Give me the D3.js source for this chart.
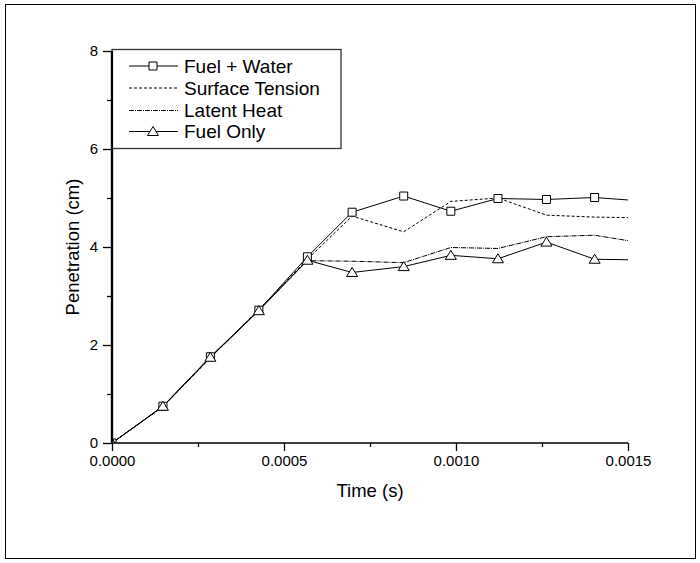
<!DOCTYPE html>
<html>
<head>
<meta charset="utf-8">
<script src="https://cdn.jsdelivr.net/npm/d3@7"></script>
<style>
  body { margin: 0; background: #fff; }
  text { font-family: "Liberation Sans", Arial, sans-serif; fill: #000; }
</style>
</head>
<body>
<div id="chart"></div>
<script>
// Data
const times = [0, 0.000148, 0.000286, 0.000427, 0.000568, 0.000698, 0.000848, 0.000985, 0.001122, 0.001263, 0.001403, 0.0015];
const fuelWater = [0, 0.75, 1.76, 2.71, 3.80, 4.71, 5.04, 4.73, 4.99, 4.97, 5.01, 4.96];
const surfaceTension = [0, 0.74, 1.74, 2.72, 3.75, 4.63, 4.31, 4.93, 5.00, 4.65, 4.61, 4.60];
const latentHeat = [0, 0.74, 1.74, 2.72, 3.72, 3.71, 3.68, 3.99, 3.97, 4.21, 4.24, 4.13];
const fuelOnly = [0, 0.75, 1.75, 2.70, 3.73, 3.48, 3.60, 3.83, 3.76, 4.10, 3.75, 3.74];

const seriesNames = ["Fuel + Water", "Surface Tension", "Latent Heat", "Fuel Only"];
const xMajor = [0, 0.0005, 0.001, 0.0015];
const xMinor = [0.00025, 0.00075, 0.00125];
const yMajor = [0, 2, 4, 6, 8];
const yMinor = [1, 3, 5, 7];

const width = 700;
const height = 563;
const plotLeft = 112, plotRight = 628, plotTop = 51, plotBottom = 443;

const series = [
  { name: seriesNames[0], values: fuelWater, dash: null, marker: "square" },
  { name: seriesNames[1], values: surfaceTension, dash: "3,2", marker: null },
  { name: seriesNames[2], values: latentHeat, dash: "5,1,1,1", marker: null },
  { name: seriesNames[3], values: fuelOnly, dash: null, marker: "triangle" }
];

const svg = d3.select("#chart").append("svg")
  .attr("width", width)
  .attr("height", height);

// outer frame
svg.append("rect")
  .attr("x", 5.5).attr("y", 4.5)
  .attr("width", 690).attr("height", 554)
  .attr("fill", "none").attr("stroke", "#000").attr("stroke-width", 1);

const x = d3.scaleLinear().domain([0, 0.0015]).range([plotLeft, plotRight]);
const y = d3.scaleLinear().domain([0, 8]).range([plotBottom, plotTop]);

svg.append("clipPath").attr("id", "plot")
  .append("rect")
  .attr("x", plotLeft).attr("y", plotTop)
  .attr("width", plotRight - plotLeft).attr("height", plotBottom - plotTop);

// markers
function markerPath(type) {
  if (type === "square") return "M-4,-4H4V4H-4Z";
  return "M0,-5L5.5,4H-5.5Z";
}

// series lines
const line = d3.line()
  .x((d, i) => x(times[i]))
  .y(d => y(d));

const plot = svg.append("g").attr("clip-path", "url(#plot)");

series.forEach(s => {
  plot.append("path")
    .datum(s.values)
    .attr("d", line)
    .attr("fill", "none")
    .attr("stroke", "#000")
    .attr("stroke-width", 1)
    .attr("stroke-dasharray", s.dash);
});

series.filter(s => s.marker).forEach(s => {
  plot.selectAll(null)
    .data(s.values.slice(0, s.values.length - 1))
    .enter().append("path")
    .attr("d", markerPath(s.marker))
    .attr("transform", (d, i) => `translate(${x(times[i])},${y(d)})`)
    .attr("fill", "#fff")
    .attr("stroke", "#000")
    .attr("stroke-width", 1);
});

// axes
const xAxis = svg.append("g")
  .attr("transform", `translate(0,${plotBottom})`)
  .call(d3.axisBottom(x).tickValues(xMajor).tickFormat(d3.format(".4f")).tickSize(8).tickPadding(4));
svg.append("g")
  .attr("transform", `translate(0,${plotBottom})`)
  .call(d3.axisBottom(x).tickValues(xMinor).tickFormat("").tickSize(4))
  .select(".domain").remove();

const yAxis = svg.append("g")
  .attr("transform", `translate(${plotLeft},0)`)
  .call(d3.axisLeft(y).tickValues(yMajor).tickSize(9).tickPadding(5));
svg.append("g")
  .attr("transform", `translate(${plotLeft},0)`)
  .call(d3.axisLeft(y).tickValues(yMinor).tickFormat("").tickSize(5))
  .select(".domain").remove();

svg.selectAll(".tick line").attr("stroke-width", 1.3);
xAxis.select(".domain").attr("stroke-width", 1.5).attr("d", `M${plotLeft},0H${plotRight}`);
yAxis.select(".domain").attr("stroke-width", 2.2).attr("d", `M0,${plotBottom}V${plotTop}`);
svg.selectAll(".tick text")
  .style("font-family", '"Liberation Sans", Arial, sans-serif')
  .style("font-size", "15px");

// axis titles
svg.append("text")
  .attr("x", (plotLeft + plotRight) / 2)
  .attr("y", 497)
  .attr("text-anchor", "middle")
  .style("font-size", "18.5px")
  .text("Time (s)");

svg.append("text")
  .attr("transform", `translate(79,${(plotTop + plotBottom) / 2}) rotate(-90)`)
  .attr("text-anchor", "middle")
  .style("font-size", "18.5px")
  .text("Penetration (cm)");

// legend
const legend = svg.append("g");
legend.append("rect")
  .attr("x", plotLeft).attr("y", 49.5)
  .attr("width", 229).attr("height", 99)
  .attr("fill", "#fff")
  .attr("stroke", "#333").attr("stroke-width", 1.3);

const rowY = [66, 88, 110.5, 131.5];
series.forEach((s, i) => {
  const g = legend.append("g").attr("transform", `translate(0,${rowY[i]})`);
  g.append("line")
    .attr("x1", 129).attr("x2", 178)
    .attr("stroke", "#000").attr("stroke-width", 1)
    .attr("stroke-dasharray", s.dash);
  if (s.marker) {
    g.append("path")
      .attr("d", markerPath(s.marker))
      .attr("transform", "translate(153,0)")
      .attr("fill", "#fff").attr("stroke", "#000");
  }
  g.append("text")
    .attr("x", 184)
    .attr("dy", "0.36em")
    .style("font-size", "19px")
    .text(s.name);
});

// re-draw the y axis line on top of the legend edge
svg.append("path")
  .attr("d", `M${plotLeft},${plotBottom}V${plotTop}`)
  .attr("stroke", "#000").attr("stroke-width", 2.2);
</script>
</body>
</html>
